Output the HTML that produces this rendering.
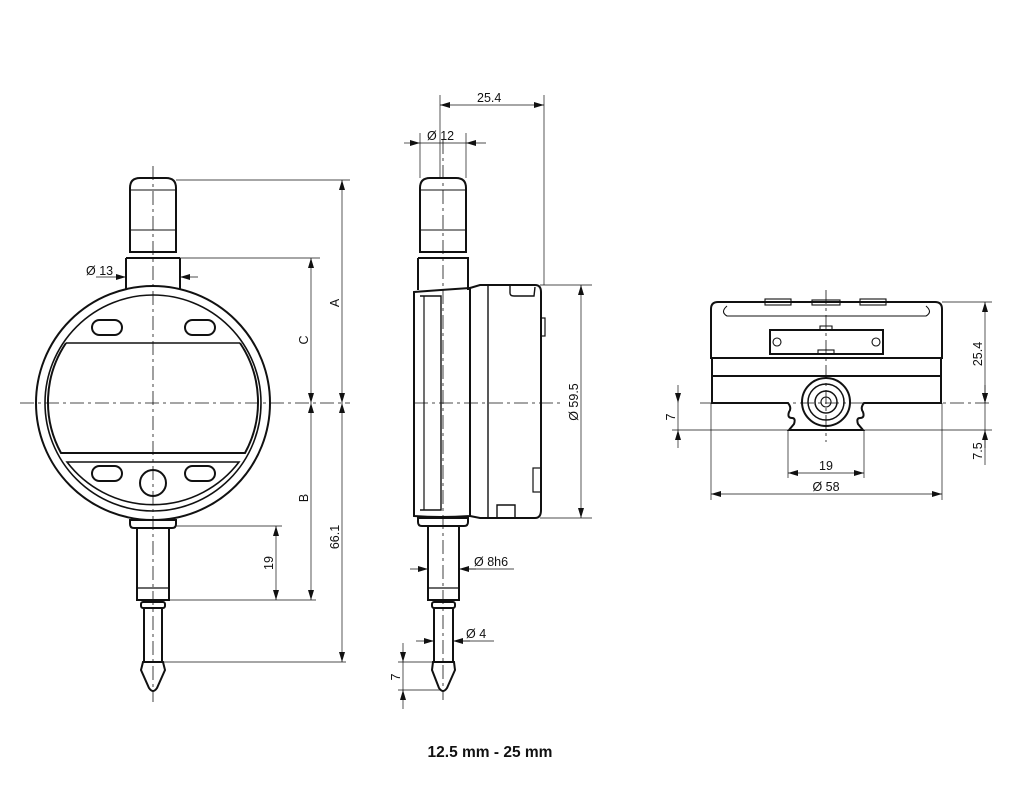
<!DOCTYPE html>
<html><head><meta charset="utf-8"><style>
html,body{margin:0;padding:0;background:#fff;width:1024px;height:800px;overflow:hidden}
svg{display:block}
text{font-family:"Liberation Sans",sans-serif;fill:#111}
</style></head><body>
<svg width="1024" height="800" viewBox="0 0 1024 800" xmlns="http://www.w3.org/2000/svg">
<defs>
<marker id="a" viewBox="0 0 10 6" refX="10" refY="3" markerWidth="10" markerHeight="6" orient="auto-start-reverse" markerUnits="userSpaceOnUse"><path d="M0,0 L10,3 L0,6z" fill="#111"/></marker>
</defs>
<g fill="none" stroke="#111">
<!-- ===== FRONT VIEW ===== -->
<g stroke-width="0.8" stroke-dasharray="14,4,3,4">
<line x1="153" y1="166" x2="153" y2="702"/>
<line x1="20" y1="403" x2="350" y2="403"/>
</g>
<g stroke-width="2">
<path d="M130,252 V188 Q130,178 140,178 H166 Q176,178 176,188 V252 Z"/>
<line x1="126" y1="258" x2="126" y2="290"/><line x1="180" y1="258" x2="180" y2="290"/>
<line x1="126" y1="258" x2="180" y2="258"/>
<circle cx="153" cy="403" r="117"/>
<circle cx="153" cy="403" r="108" stroke-width="1.6"/>
<path d="M66,343 H240" stroke-width="1.6"/>
<path d="M66,343 A106,106 0 0 0 61,453 H245 A106,106 0 0 0 240,343"/>
<path d="M67,462 H239 A108,108 0 0 1 67,462 Z" stroke-width="1.6"/>
<rect x="92" y="320" width="30" height="15" rx="7.5"/>
<rect x="185" y="320" width="30" height="15" rx="7.5"/>
<rect x="92" y="466" width="30" height="15" rx="7.5"/>
<rect x="185" y="466" width="30" height="15" rx="7.5"/>
<circle cx="153" cy="483" r="13"/>
<path d="M130,520 H176 V524 Q176,528 172,528 H134 Q130,528 130,524 Z"/>
<rect x="137" y="528" width="32" height="72"/>
<line x1="137" y1="588" x2="169" y2="588" stroke-width="1.2"/>
<rect x="141" y="602" width="24" height="6" rx="2"/>
<line x1="144" y1="608" x2="144" y2="662"/><line x1="162" y1="608" x2="162" y2="662"/>
<path d="M143,662 H163 L165,670 L157,688 Q153,694 149,688 L141,670 Z"/>
</g>
<g stroke-width="1.1">
<line x1="130" y1="190" x2="176" y2="190"/><line x1="130" y1="230" x2="176" y2="230"/>
</g>
<!-- front dims -->
<g stroke-width="0.7">
<line x1="176" y1="180" x2="350" y2="180"/>
<line x1="180" y1="258" x2="320" y2="258"/>
<line x1="176" y1="526" x2="282" y2="526"/>
<line x1="169" y1="600" x2="316" y2="600"/>
<line x1="162" y1="662" x2="346" y2="662"/>
<line x1="342" y1="180" x2="342" y2="403" marker-start="url(#a)" marker-end="url(#a)"/>
<line x1="342" y1="403" x2="342" y2="662" marker-start="url(#a)" marker-end="url(#a)"/>
<line x1="311" y1="258" x2="311" y2="403" marker-start="url(#a)" marker-end="url(#a)"/>
<line x1="311" y1="403" x2="311" y2="600" marker-start="url(#a)" marker-end="url(#a)"/>
<line x1="276" y1="526" x2="276" y2="600" marker-start="url(#a)" marker-end="url(#a)"/>
<line x1="96" y1="277" x2="126" y2="277" marker-end="url(#a)"/>
<line x1="198" y1="277" x2="180" y2="277" marker-end="url(#a)"/>
</g>
<!-- ===== SIDE VIEW ===== -->
<g stroke-width="0.8" stroke-dasharray="14,4,3,4">
<line x1="443" y1="140" x2="443" y2="700"/>
<line x1="414" y1="403" x2="560" y2="403"/>
</g>
<g stroke-width="2">
<path d="M420,252 V188 Q420,178 430,178 H456 Q466,178 466,188 V252 Z"/>
<path d="M418,258 H468 V290 M418,258 V290"/>
<path d="M414,292 Q440,290 470,288 V516 Q440,518 414,516 Z"/>
<path d="M470,288 L480,285 H535 Q541,285 541,292 V510 Q541,518 535,518 H480 L470,516"/>
<line x1="488" y1="285" x2="488" y2="518" stroke-width="1.4"/>
<path d="M510,286 V293 Q510,296 514,296 H534 L535,287" stroke-width="1.4"/>
<path d="M420,296 H441 V510 H420" stroke-width="1.4"/>
<line x1="424" y1="296" x2="424" y2="510" stroke-width="1.2"/>
<rect x="541" y="318" width="4" height="18" stroke-width="1.2"/>
<rect x="533" y="468" width="8" height="24" stroke-width="1.2"/>
<path d="M497,518 V505 H515 V518" stroke-width="1.4"/>
<path d="M418,518 H468 V522 Q468,526 464,526 H422 Q418,526 418,522Z"/>
<rect x="428" y="526" width="31" height="74"/>
<line x1="428" y1="588" x2="459" y2="588" stroke-width="1.2"/>
<rect x="432" y="602" width="23" height="6" rx="2"/>
<line x1="434" y1="608" x2="434" y2="662"/><line x1="453" y1="608" x2="453" y2="662"/>
<path d="M433,662 H454 L455,670 L447,688 Q443,694 439,688 L432,670 Z"/>
</g>
<g stroke-width="1.1">
<line x1="420" y1="190" x2="466" y2="190"/><line x1="420" y1="230" x2="466" y2="230"/>
</g>
<g stroke-width="0.7">
<line x1="440" y1="95" x2="440" y2="178"/>
<line x1="544" y1="95" x2="544" y2="285"/>
<line x1="440" y1="105" x2="544" y2="105" marker-start="url(#a)" marker-end="url(#a)"/>
<line x1="420" y1="133" x2="420" y2="178"/>
<line x1="466" y1="133" x2="466" y2="178"/>
<line x1="404" y1="143" x2="420" y2="143" marker-end="url(#a)"/>
<line x1="486" y1="143" x2="466" y2="143" marker-end="url(#a)"/>
<line x1="420" y1="143" x2="466" y2="143"/>
<line x1="540" y1="285" x2="592" y2="285"/>
<line x1="540" y1="518" x2="592" y2="518"/>
<line x1="581" y1="285" x2="581" y2="518" marker-start="url(#a)" marker-end="url(#a)"/>
<line x1="410" y1="569" x2="428" y2="569" marker-end="url(#a)"/>
<line x1="476" y1="569" x2="459" y2="569" marker-end="url(#a)"/>
<line x1="459" y1="569" x2="514" y2="569"/>
<line x1="416" y1="641" x2="434" y2="641" marker-end="url(#a)"/>
<line x1="470" y1="641" x2="453" y2="641" marker-end="url(#a)"/>
<line x1="453" y1="641" x2="494" y2="641"/>
<line x1="398" y1="662" x2="440" y2="662"/>
<line x1="398" y1="690" x2="442" y2="690"/>
<line x1="403" y1="643" x2="403" y2="662" marker-end="url(#a)"/>
<line x1="403" y1="709" x2="403" y2="690" marker-end="url(#a)"/>
<line x1="403" y1="662" x2="403" y2="690"/>
</g>
<!-- ===== BOTTOM VIEW ===== -->
<g stroke-width="0.8" stroke-dasharray="14,4,3,4">
<line x1="826" y1="290" x2="826" y2="442"/>
<line x1="700" y1="403" x2="990" y2="403"/>
</g>
<g stroke-width="2">
<path d="M711,358 V309 Q711,302 718,302 H935 Q942,302 942,309 V358 Z"/>
<path d="M712,358 V403 H788 Q792,408 789,412 Q787,418 792,418 Q796,418 794,424 L789,430 H863 L858,424 Q856,418 860,418 Q865,418 863,412 Q860,408 864,403 H941 V358"/>
<line x1="712" y1="376" x2="941" y2="376"/>
<rect x="770" y="330" width="113" height="24"/>
<circle cx="826" cy="402" r="24"/>
<circle cx="826" cy="402" r="18" stroke-width="1.5"/>
<circle cx="826" cy="402" r="11" stroke-width="1.5"/>
</g>
<g stroke-width="1.1">
<path d="M727,306 Q720,312 727,316 H926 Q933,312 926,306"/>
<rect x="765" y="299" width="26" height="6"/>
<rect x="812" y="300" width="28" height="5"/>
<rect x="860" y="299" width="26" height="6"/>
<circle cx="777" cy="342" r="4"/><circle cx="876" cy="342" r="4"/>
<path d="M820,330 V326 H832 V330"/>
<rect x="818" y="350" width="16" height="4"/>
<circle cx="826" cy="402" r="5"/>
</g>
<g stroke-width="0.7">
<line x1="942" y1="302" x2="992" y2="302"/>
<line x1="864" y1="430" x2="992" y2="430"/>
<line x1="985" y1="302" x2="985" y2="403" marker-start="url(#a)" marker-end="url(#a)"/>
<line x1="985" y1="448" x2="985" y2="430" marker-end="url(#a)"/>
<line x1="985" y1="385" x2="985" y2="403" marker-end="url(#a)"/>
<line x1="985" y1="403" x2="985" y2="465"/>
<line x1="672" y1="430" x2="788" y2="430"/>
<line x1="678" y1="385" x2="678" y2="403" marker-end="url(#a)"/>
<line x1="678" y1="448" x2="678" y2="430" marker-end="url(#a)"/>
<line x1="678" y1="403" x2="678" y2="430"/>
<line x1="788" y1="430" x2="788" y2="478"/>
<line x1="864" y1="430" x2="864" y2="478"/>
<line x1="711" y1="403" x2="711" y2="500"/>
<line x1="942" y1="403" x2="942" y2="500"/>
<line x1="788" y1="473" x2="864" y2="473" marker-start="url(#a)" marker-end="url(#a)"/>
<line x1="711" y1="494" x2="942" y2="494" marker-start="url(#a)" marker-end="url(#a)"/>
</g>
</g>
<!-- TEXT -->
<g font-size="12.5">
<text x="86" y="275">Ø 13</text>
<text transform="translate(339,303) rotate(-90)" text-anchor="middle">A</text>
<text transform="translate(308,340) rotate(-90)" text-anchor="middle">C</text>
<text transform="translate(308,498) rotate(-90)" text-anchor="middle">B</text>
<text transform="translate(339,537) rotate(-90)" text-anchor="middle">66.1</text>
<text transform="translate(273,563) rotate(-90)" text-anchor="middle">19</text>
<text x="477" y="102">25.4</text>
<text x="427" y="140">Ø 12</text>
<text transform="translate(578,402) rotate(-90)" text-anchor="middle">Ø 59.5</text>
<text x="474" y="566">Ø 8h6</text>
<text x="466" y="638">Ø 4</text>
<text transform="translate(400,677) rotate(-90)" text-anchor="middle">7</text>
<text transform="translate(982,354) rotate(-90)" text-anchor="middle">25.4</text>
<text transform="translate(982,451) rotate(-90)" text-anchor="middle">7.5</text>
<text transform="translate(675,417) rotate(-90)" text-anchor="middle">7</text>
<text x="826" y="470" text-anchor="middle">19</text>
<text x="826" y="491" text-anchor="middle">Ø 58</text>
</g>
<text x="490" y="757" font-size="15.5" font-weight="bold" text-anchor="middle">12.5 mm - 25 mm</text>
</svg>
</body></html>
